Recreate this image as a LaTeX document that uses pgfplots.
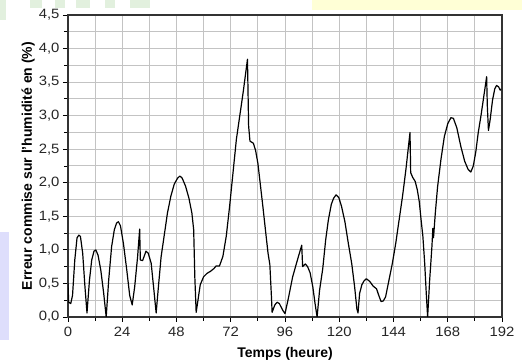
\documentclass[border=0pt]{standalone}
\usepackage{pgfplots}
\pgfplotsset{compat=1.18}
\usepackage{fontspec}
\setmainfont{Liberation Sans}
\newfontfamily\tickfont[FakeStretch=1.1]{Liberation Sans}
\definecolor{gridgray}{RGB}{195,195,195}
\definecolor{lav}{RGB}{222,222,252}
\definecolor{yel}{RGB}{255,255,214}
\definecolor{lgreen}{RGB}{226,240,222}
\pgfplotstableread{
h v
0 0.50
0.3 0.22
1.2 0.20
2.0 0.32
3.0 0.85
4.0 1.18
4.8 1.22
5.5 1.20
6.5 0.95
7.5 0.45
8.4 0.06
9.5 0.55
10.5 0.85
11.5 0.98
12.3 1.00
13.3 0.92
14.5 0.70
15.8 0.35
16.9 0.00
18.0 0.55
19.3 1.05
20.5 1.30
21.5 1.40
22.3 1.42
23.2 1.36
24.5 1.10
26.0 0.70
27.3 0.32
28.4 0.18
29.5 0.45
30.8 0.90
31.7 1.31
32.0 0.85
33.0 0.84
34.5 0.98
35.5 0.95
36.8 0.80
38.0 0.40
39.0 0.06
40.0 0.45
41.2 0.90
42.5 1.20
44.0 1.55
45.5 1.80
47.0 1.98
48.5 2.07
49.5 2.10
50.5 2.07
52.0 1.95
53.5 1.77
54.8 1.55
55.6 1.30
56.1 0.60
56.7 0.07
57.5 0.25
58.5 0.48
60.0 0.60
61.5 0.65
63.0 0.68
64.5 0.72
65.5 0.76
67.0 0.76
68.5 0.90
70.0 1.20
71.5 1.65
73.0 2.15
74.5 2.65
76.0 3.00
77.5 3.35
79.4 3.84
79.9 2.85
80.5 2.62
82.0 2.59
83.0 2.48
84.0 2.29
85.0 2.00
86.2 1.65
87.5 1.25
88.5 0.95
89.3 0.78
90.0 0.30
90.3 0.07
91.5 0.18
92.5 0.22
93.5 0.20
95.0 0.10
96.0 0.05
97.5 0.28
99.4 0.60
101.5 0.85
103.4 1.07
103.8 0.75
105.0 0.79
106.0 0.75
107.1 0.66
108.3 0.45
109.3 0.20
110.2 0.00
111.3 0.40
112.7 0.72
114.0 1.15
115.2 1.45
116.5 1.68
117.5 1.77
118.6 1.82
119.8 1.78
121.0 1.65
122.5 1.42
124.0 1.10
125.5 0.80
126.8 0.45
127.8 0.12
128.3 0.06
129.0 0.35
130.0 0.48
131.0 0.54
132.0 0.57
133.5 0.53
135.0 0.46
136.5 0.42
137.5 0.32
138.5 0.23
139.5 0.24
140.5 0.30
142.0 0.55
143.5 0.80
145.0 1.10
146.5 1.45
148.0 1.80
149.5 2.20
151.3 2.75
151.6 2.15
152.5 2.08
153.6 2.02
154.5 1.90
155.4 1.72
156.2 1.45
157.0 1.20
157.8 0.80
158.5 0.35
159.1 0.00
160.0 0.55
161.0 1.05
161.4 1.32
161.7 1.18
162.5 1.55
163.5 1.94
165.0 2.35
166.5 2.69
168.0 2.88
169.4 2.97
170.5 2.96
172.0 2.82
173.8 2.54
175.5 2.32
177.0 2.20
178.2 2.16
179.3 2.25
180.4 2.46
181.5 2.75
182.7 3.00
184.0 3.30
185.2 3.58
185.5 3.15
186.0 2.78
186.8 2.95
187.8 3.23
188.8 3.40
189.6 3.45
190.5 3.43
191.2 3.38
191.5 3.40
}\datatable
\begin{document}
\begin{tikzpicture}[x=1pt,y=1pt]
\useasboundingbox (0,0) rectangle (522,363);
% background artefacts of the screenshot
\fill[yel] (312,353) rectangle (522,363);
\fill[lav] (0,23) rectangle (9,131);
\fill[lgreen] (0,343) rectangle (6,363);
\fill[lgreen] (30,355) rectangle (42,363);
\fill[lgreen] (55,355) rectangle (65,363);
\fill[lgreen] (76,355) rectangle (90,363);
\fill[lgreen] (105,355) rectangle (115,363);
\fill[lgreen] (130,355) rectangle (150,363);
\begin{axis}[
  at={(68pt,46pt)}, anchor=south west,
  scale only axis, width=434pt, height=302pt,
  xmin=0, xmax=192, ymin=0, ymax=4.5,
  xtick={0,24,...,192}, minor x tick num=1,
  ytick={0,0.5,...,4.5}, minor y tick num=1,
  tick pos=left, tick align=outside,
  major tick length=5pt, minor tick length=4pt,
  grid=both,
  major grid style={gridgray, line width=1pt},
  minor grid style={gridgray, line width=1pt},
  axis line style={black!80, line width=1.1pt},
  every tick/.style={black, line width=0.9pt},
  /pgf/number format/assume math mode=true,
  yticklabel style={/pgf/number format/.cd, use comma, fixed, fixed zerofill, precision=1},
  ticklabel style={font=\tickfont\fontsize{13.5}{15}\selectfont, text=black!85},
  xticklabel style={yshift=-2pt},
  xlabel={Temps (heure)},
  ylabel={Erreur commise sur l'humidité en (\%)},
  every axis x label/.style={at={(axis description cs:0.5,-0.1325)}, anchor=base, font=\bfseries\fontsize{14}{16}\selectfont},
  every axis y label/.style={at={(axis description cs:-0.083,0.5)}, rotate=90, anchor=base, font=\bfseries\fontsize{14}{16}\selectfont},
]
\addplot[black, line width=1.2pt, line join=round] table[x=h, y=v] {\datatable};
\end{axis}
\end{tikzpicture}
\end{document}
